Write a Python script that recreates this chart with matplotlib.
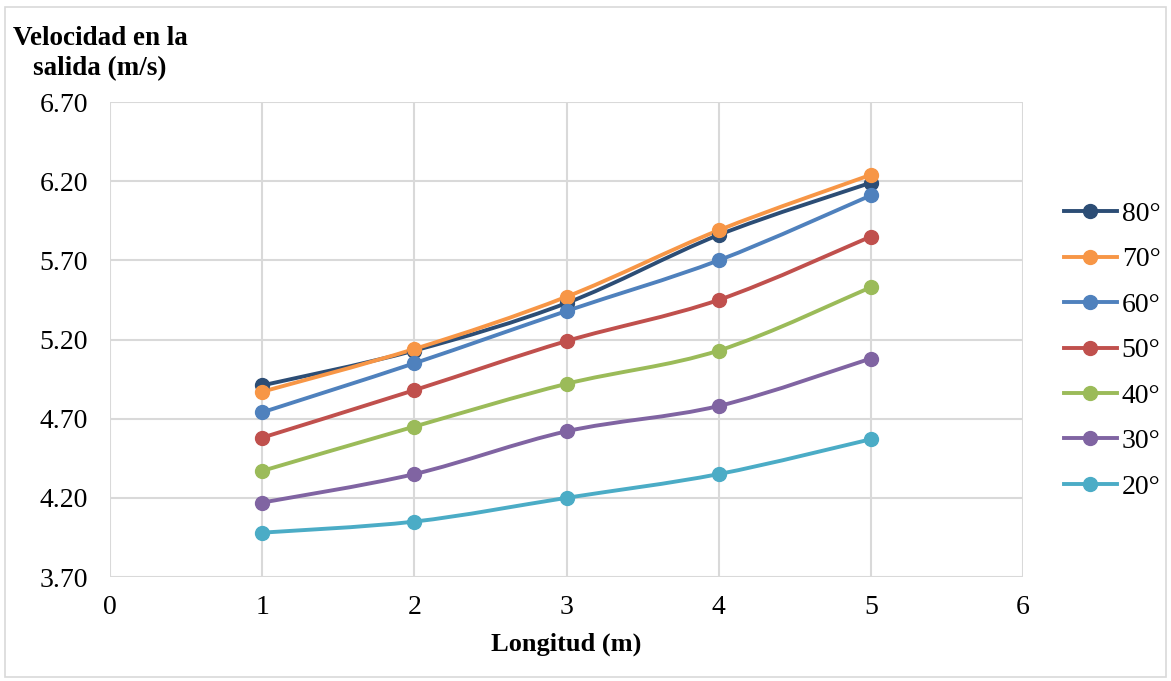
import matplotlib
matplotlib.use('Agg')
import matplotlib.pyplot as plt
from matplotlib.path import Path
from matplotlib.patches import PathPatch, Rectangle
from matplotlib.lines import Line2D
import numpy as np

plt.rcParams['font.family'] = ['Liberation Serif', 'DejaVu Serif']

longitud = [1, 2, 3, 4, 5]
angulos = ['80°', '70°', '60°', '50°', '40°', '30°', '20°']
v80 = [4.91, 5.13, 5.43, 5.86, 6.19]
v70 = [4.87, 5.14, 5.47, 5.89, 6.24]
v60 = [4.74, 5.05, 5.38, 5.70, 6.11]
v50 = [4.58, 4.88, 5.19, 5.45, 5.85]
v40 = [4.37, 4.65, 4.92, 5.13, 5.53]
v30 = [4.17, 4.35, 4.62, 4.78, 5.08]
v20 = [3.98, 4.05, 4.20, 4.35, 4.57]
series = [v80, v70, v60, v50, v40, v30, v20]
colores = ['#2c4d75', '#f79646', '#4f81bd', '#c0504d', '#9bbb59', '#8064a2', '#4bacc6']


def smooth_path(x, y):
    # bezier segments like a spreadsheet "smoothed line"
    pts = np.column_stack([x, y]).astype(float)
    n = len(pts)
    verts = [pts[0]]
    codes = [Path.MOVETO]
    for i in range(n - 1):
        p0 = pts[i - 1] if i > 0 else pts[i]
        p1 = pts[i]
        p2 = pts[i + 1]
        p3 = pts[i + 2] if i + 2 < n else pts[i + 1]
        c1 = p1 + (p2 - p0) / 6.0
        c2 = p2 - (p3 - p1) / 6.0
        verts += [c1, c2, p2]
        codes += [Path.CURVE4] * 3
    return Path(verts, codes)


fig = plt.figure(figsize=(11.71, 6.81), dpi=100)
ax = fig.add_axes([110 / 1171, 1 - 577 / 681, (1023 - 110) / 1171, (577 - 102) / 681])

handles = []
for vals, c, lab in zip(series, colores, angulos):
    ax.add_patch(PathPatch(smooth_path(longitud, vals), fill=False, edgecolor=c,
                           lw=2.8, capstyle='round', joinstyle='round', zorder=3))
    ax.plot(longitud, vals, 'o', color=c, ms=10, zorder=4)
    handles.append(Line2D([], [], color=c, lw=2.8, marker='o', ms=10))

ax.set_xlim(0, 6)
ax.set_ylim(3.70, 6.70)
ax.set_xticks(range(0, 7))
ax.set_yticks(np.arange(3.70, 6.71, 0.5))
ax.set_yticklabels(['%.2f' % t for t in np.arange(3.70, 6.71, 0.5)])
ax.tick_params(length=0, labelsize=20)
ax.tick_params(axis='y', pad=16)
ax.tick_params(axis='x', pad=13)
ax.grid(True, color='#d9d9d9', lw=1.5)
ax.set_axisbelow(True)
for s in ax.spines.values():
    s.set_visible(False)

ax.set_xlabel('Longitud (m)', fontsize=19, fontweight='bold', labelpad=9)
fig.text(100 / 1171, 1 - 54 / 681, 'Velocidad en la\nsalida (m/s)', ha='center', va='center',
         fontsize=19.5, fontweight='bold', linespacing=1.27)

fig.legend(handles=handles, labels=angulos, loc='center left',
           bbox_to_anchor=(1050 / 1171, 1 - 350.5 / 681), frameon=False, fontsize=20,
           borderpad=0, handlelength=1.9, handletextpad=0.18, labelspacing=0.72)

fig.patches.append(Rectangle((5 / 1171, 4 / 681), 1161 / 1171, 670 / 681, transform=fig.transFigure,
                             fill=False, edgecolor='#d9d9d9', lw=1.2))

fig.savefig('out.png', dpi=100)
